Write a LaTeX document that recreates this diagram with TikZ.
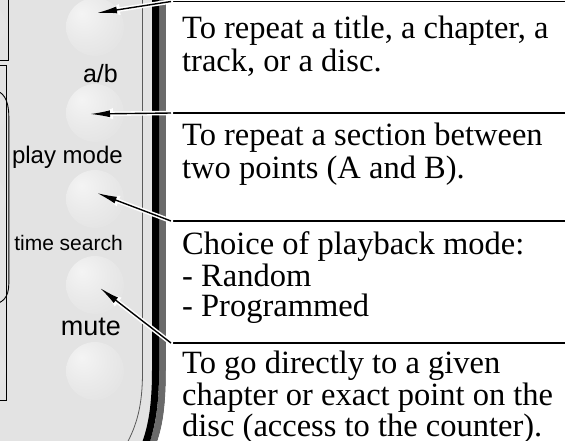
\documentclass[tikz,border=0pt]{standalone}
\usepackage{fontspec}
\setmainfont{Liberation Serif}
\newfontfamily\labelfont{Liberation Sans}
\usetikzlibrary{arrows.meta,calc}
\definecolor{bodygrey}{HTML}{E3E3E3}
\definecolor{bandgrey}{HTML}{6A6A6A}
\definecolor{thingrey}{HTML}{5A5A5A}
\definecolor{btnhi}{HTML}{F4F4F4}
\definecolor{btnmid}{HTML}{EAEAEA}
\definecolor{btnedge}{HTML}{DBDBDB}
\pgfdeclareradialshading{btnshade}{\pgfpoint{-12bp}{12bp}}{color(0bp)=(btnhi); color(20bp)=(btnmid); color(55bp)=(btnedge); color(70bp)=(btnedge)}
\pgfdeclareradialshading{sideshade}{\pgfpoint{-12bp}{12bp}}{color(0bp)=(btnmid); color(40bp)=(bodygrey); color(70bp)=(bodygrey)}
\tikzset{
  button/.style={circle, minimum size=58pt, inner sep=0pt, shading=btnshade, shade},
  sidebutton/.style={circle, minimum size=56pt, inner sep=0pt, shading=sideshade, shade},
  keylabel/.style={anchor=base east, inner sep=0pt},
  halo/.style={white, line width=4.5pt, line cap=round, -{Latex[length=23pt,width=11pt]}},
  pointer/.style={black, line width=1.4pt, -{Latex[length=20pt,width=7pt]}},
  separator/.style={black, line width=1.5pt},
  desc/.style={anchor=north west, inner sep=0pt, align=left, font=\fontsize{32.5}{30}\selectfont}
}
\begin{document}
\begin{tikzpicture}[x=1pt,y=-1pt]
\useasboundingbox (0,0) rectangle (565,440);
% remote body
\fill[bodygrey] (-10,-10) -- (166,-10) -- (166,370) .. controls (166,410) and (162,432) .. (154,450) -- (-10,450) -- cycle;
% partly hidden buttons at the left
\node[sidebutton] (s1) at (-22,27) {};
\node[sidebutton] (s2) at (-22,113) {};
\node[sidebutton] (s3) at (-22,199) {};
\node[sidebutton] (s4) at (-22,371) {};
% left outlines
\draw[black, line width=0.9pt] (-10,-10) -- (8,-10) -- (8,60) -- (-10,60);
\draw[black, line width=0.9pt] (-10,65) -- (6,65) -- (6,400) -- (-10,400);
\draw[black, line width=0.9pt] (-20,90) -- (-8,90) .. controls (3,90) and (8.8,100) .. (8.8,116) -- (8.8,284) .. controls (8.8,297) and (3,304) .. (-10,305);
% inner thin outline
\draw[thingrey, line width=0.8pt] (142.5,-10) -- (142.5,372) .. controls (142.5,405) and (137,425) .. (126,445);
% side bands
\draw[bandgrey, line width=7pt] (162.5,-10) -- (162.5,370) .. controls (162.5,408) and (159,430) .. (150,450);
\draw[black, line width=7pt] (155.5,-10) -- (155.5,370) .. controls (155.5,405) and (152,428) .. (143,450);
% white panel
\fill[white] (166,-10) -- (575,-10) -- (575,450) -- (154,450) .. controls (162,432) and (166,410) .. (166,370) -- cycle;
% buttons
\node[button] (b1) at (95,27) {};
\node[button] (b2) at (95,113) {};
\node[button] (b3) at (95,199) {};
\node[button] (b4) at (95,285) {};
\node[button] (b5) at (95,371) {};
% key labels
\node[keylabel, font=\labelfont\fontsize{25}{25}\selectfont] (la) at (118,82) {a/b};
\node[keylabel, font=\labelfont\fontsize{24}{24}\selectfont] (lp) at (123,163) {play mode};
\node[keylabel, font=\labelfont\fontsize{21}{21}\selectfont] (lt) at (123,250) {time search};
\node[keylabel, font=\labelfont\fontsize{27}{27}\selectfont] (lm) at (121,335) {mute};
% junctions and line ends
\coordinate (j1) at (171,1.5);
\coordinate (j2) at (171,113);
\coordinate (j3) at (171,221);
\coordinate (j4) at (171,343);
\coordinate (e1) at (566,1.5);
\coordinate (e2) at (566,113);
\coordinate (e3) at (566,221);
\coordinate (e4) at (566,343);
% separators
\draw[separator] (j1) -- (e1);
\draw[separator] (j2) -- (e2);
\draw[separator] (j3) -- (e3);
\draw[separator] (j4) -- (e4);
% pointers
\draw[halo] (j1) -- ($(b1.center)+(2,-14)$);
\draw[halo] (j2) -- ($(b2.center)+(-5,1)$);
\draw[halo] (j3) -- ($(b3.center)+(2,-6)$);
\draw[halo] (j4) -- ($(b4.center)+(5,3)$);
\draw[pointer] (j1) -- ($(b1.center)+(2,-14)$);
\draw[pointer] (j2) -- ($(b2.center)+(-5,1)$);
\draw[pointer] (j3) -- ($(b3.center)+(2,-6)$);
\draw[pointer] (j4) -- ($(b4.center)+(5,3)$);
% descriptions
\node[desc] (d1) at (182,16) {\strut To repeat a title, a chapter, a\\track, or a disc.};
\node[desc] (d2) at (182,123) {\strut To repeat a section between\\two points (A and B).};
\node[desc] (d3) at (182,231) {\strut Choice of playback mode:\\- Random\\- Programmed};
\node[desc, font=\fontsize{32.5}{29}\selectfont] (d4) at (182,350.7) {\strut To go directly to a given\\chapter or exact point on the\\disc (access to the counter).};
\end{tikzpicture}
\end{document}
